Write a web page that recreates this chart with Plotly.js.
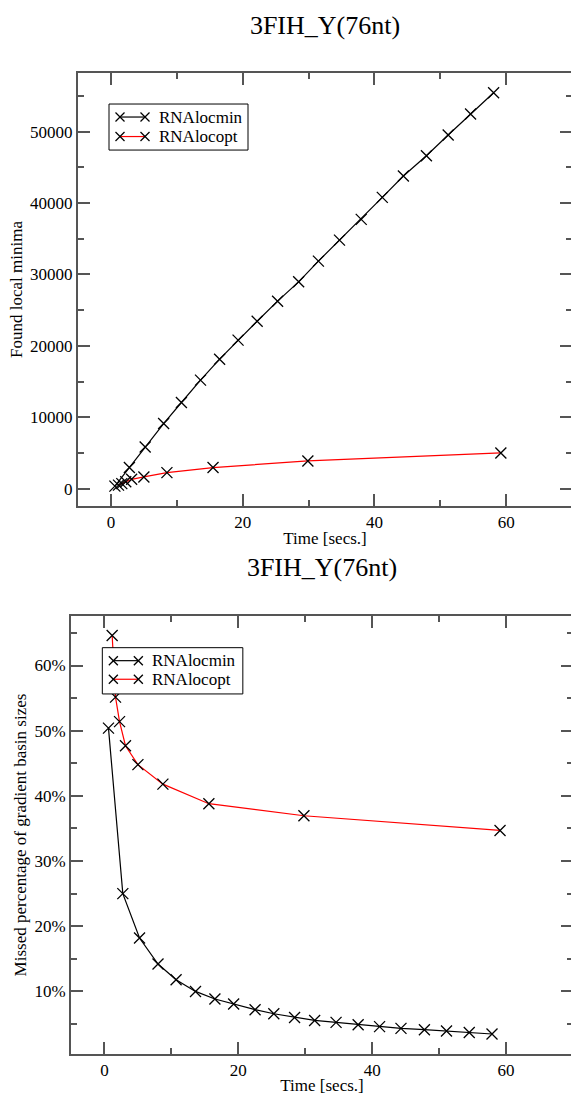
<!DOCTYPE html>
<html>
<head>
<meta charset="utf-8">
<script src="https://cdn.plot.ly/plotly-3.0.1.min.js"></script>
<style>
html,body{margin:0;padding:0;background:#fff;overflow:hidden;width:571px;height:1095px;}
#top{position:absolute;left:0;top:0;}
#bot{position:absolute;left:0;top:548px;}
</style>
</head>
<body>
<div id="top"></div>
<div id="bot"></div>
<script>
const titleText = "3FIH_Y(76nt)";
const seriesNames = ["RNAlocmin", "RNAlocopt"];
const seriesColors = ["#000000", "#ff0000"];

// Top chart: found local minima vs time
const locminTime = [0.6, 2.8, 5.2, 8.0, 10.7, 13.6, 16.5, 19.3, 22.2, 25.3, 28.5, 31.5, 34.7, 38.0, 41.2, 44.4, 47.9, 51.2, 54.6, 58.1];
const locminFound = [350, 2950, 5830, 9110, 12060, 15200, 18130, 20800, 23450, 26260, 28970, 31870, 34810, 37720, 40800, 43790, 46640, 49540, 52480, 55460];
const locoptTime = [1.15, 1.65, 2.25, 3.14, 5.0, 8.5, 15.5, 29.9, 59.2];
const locoptFound = [480, 700, 950, 1300, 1630, 2240, 2950, 3870, 4990];

// Bottom chart: missed percentage of gradient basin sizes vs time
const locminMissTime = [0.6, 2.74, 5.24, 8.0, 10.7, 13.6, 16.5, 19.3, 22.5, 25.3, 28.4, 31.4, 34.6, 37.9, 41.1, 44.3, 47.8, 51.1, 54.5, 57.9];
const locminMissed = [50.4, 25.0, 18.2, 14.2, 11.8, 10.0, 8.83, 8.07, 7.2, 6.58, 6.0, 5.55, 5.25, 4.9, 4.6, 4.33, 4.13, 3.93, 3.71, 3.47];
const locoptMissTime = [1.15, 1.65, 2.25, 3.14, 5.0, 8.73, 15.6, 29.8, 59.1];
const locoptMissed = [64.6, 55.15, 51.4, 47.7, 44.8, 41.8, 38.8, 36.95, 34.7];

const FONT = "'Liberation Serif', serif";
const AX = "#555";

function marker(){ return {symbol:"x-thin-open", size:11, color:"#000", line:{width:1.3, color:"#000"}}; }

function xAxis(){
  return {
    range:[-5,70], tick0:0, dtick:20, ticks:"inside", ticklen:12, tickwidth:2, tickcolor:AX,
    showline:true, linecolor:AX, linewidth:2, mirror:"ticks", zeroline:false, showgrid:false,
    minor:{dtick:10, tick0:0, ticks:"inside", ticklen:6, tickwidth:2, tickcolor:AX, showgrid:false},
    tickfont:{family:FONT, size:17, color:"#000"},
    title:{text:"Time [secs.]", font:{family:FONT, size:17, color:"#000"}, standoff:4},
    automargin:false
  };
}

// Hand-built legend box (line sample with a cross at each end), placed in pixels of the figure
function legendDecor(W, H, m, boxL, boxT, boxR, boxB, rowYs){
  const pw = W - m.l - m.r, ph = H - m.t - m.b;
  const px = v => (v - m.l) / pw;
  const py = v => (H - m.b - v) / ph;
  const shapes = [{type:"rect", xref:"paper", yref:"paper", x0:px(boxL), x1:px(boxR), y0:py(boxB), y1:py(boxT),
    line:{color:"#000", width:1}, fillcolor:"#fff", layer:"above"}];
  const ann = [];
  const s = 4.5;
  rowYs.forEach((ry, i) => {
    const xa = boxL + 11, xb = boxL + 36;
    shapes.push({type:"line", xref:"paper", yref:"paper", x0:px(xa), x1:px(xb), y0:py(ry), y1:py(ry),
      line:{color:seriesColors[i], width:1.2}, layer:"above"});
    [xa, xb].forEach(cx => {
      shapes.push({type:"line", xref:"paper", yref:"paper", x0:px(cx - s), x1:px(cx + s), y0:py(ry - s), y1:py(ry + s), line:{color:"#000", width:1.3}, layer:"above"});
      shapes.push({type:"line", xref:"paper", yref:"paper", x0:px(cx - s), x1:px(cx + s), y0:py(ry + s), y1:py(ry - s), line:{color:"#000", width:1.3}, layer:"above"});
    });
    ann.push({text:seriesNames[i], xref:"paper", yref:"paper", x:px(boxL + 47.5), y:py(ry), xanchor:"left", yanchor:"middle",
      showarrow:false, font:{family:FONT, size:17, color:"#000"}});
  });
  return {shapes, ann};
}

const topM = {l:78, r:1, t:73, b:42.3};
const topLeg = legendDecor(573, 548, topM, 109, 104, 248, 150, [117, 136.5]);
const topData = [
  {x:locminTime, y:locminFound, name:seriesNames[0], mode:"lines+markers", line:{color:seriesColors[0], width:1.2}, marker:marker()},
  {x:locoptTime, y:locoptFound, name:seriesNames[1], mode:"lines+markers", line:{color:seriesColors[1], width:1.2}, marker:marker()}
];
const topLayout = {
  width:573, height:548, margin:topM,
  paper_bgcolor:"#fff", plot_bgcolor:"#fff",
  title:{text:titleText, font:{family:FONT, size:26, color:"#000"}, x:0.5, xref:"paper", y:1-25/548, yref:"container", yanchor:"middle"},
  xaxis:xAxis(),
  yaxis:{
    range:[-2440,58230], tick0:0, dtick:10000, tickformat:"d", ticks:"inside", ticklen:12, tickwidth:2, tickcolor:AX,
    showline:true, linecolor:AX, linewidth:2, mirror:"ticks", zeroline:false, showgrid:false,
    minor:{dtick:5000, tick0:0, ticks:"inside", ticklen:6, tickwidth:2, tickcolor:AX, showgrid:false},
    tickfont:{family:FONT, size:17, color:"#000"},
    title:{text:"Found local minima", font:{family:FONT, size:17, color:"#000"}, standoff:3},
    automargin:false
  },
  shapes:topLeg.shapes, annotations:topLeg.ann, showlegend:false
};

const botM = {l:71, r:0.4, t:68, b:40.7};
const botLeg = legendDecor(573, 547, botM, 102.3, 99.7, 242.7, 146, [112.7, 131.3]);
const botData = [
  {x:locminMissTime, y:locminMissed, name:seriesNames[0], mode:"lines+markers", line:{color:seriesColors[0], width:1.2}, marker:marker()},
  {x:locoptMissTime, y:locoptMissed, name:seriesNames[1], mode:"lines+markers", line:{color:seriesColors[1], width:1.2}, marker:marker()}
];
const botLayout = {
  width:573, height:547, margin:botM,
  paper_bgcolor:"#fff", plot_bgcolor:"#fff",
  title:{text:titleText, font:{family:FONT, size:26, color:"#000"}, x:0.5, xref:"paper", y:1-19/547, yref:"container", yanchor:"middle"},
  xaxis:xAxis(),
  yaxis:{
    range:[0.4,67.6], tick0:0, dtick:10, ticksuffix:"%", ticks:"inside", ticklen:12, tickwidth:2, tickcolor:AX,
    showline:true, linecolor:AX, linewidth:2, mirror:"ticks", zeroline:false, showgrid:false,
    minor:{dtick:5, tick0:0, ticks:"inside", ticklen:6, tickwidth:2, tickcolor:AX, showgrid:false},
    tickfont:{family:FONT, size:17, color:"#000"},
    title:{text:"Missed percentage of gradient basin sizes", font:{family:FONT, size:17, color:"#000"}, standoff:3},
    automargin:false
  },
  shapes:botLeg.shapes, annotations:botLeg.ann, showlegend:false
};

Plotly.newPlot("top", topData, topLayout, {displayModeBar:false, staticPlot:true});
Plotly.newPlot("bot", botData, botLayout, {displayModeBar:false, staticPlot:true});
</script>
</body>
</html>
